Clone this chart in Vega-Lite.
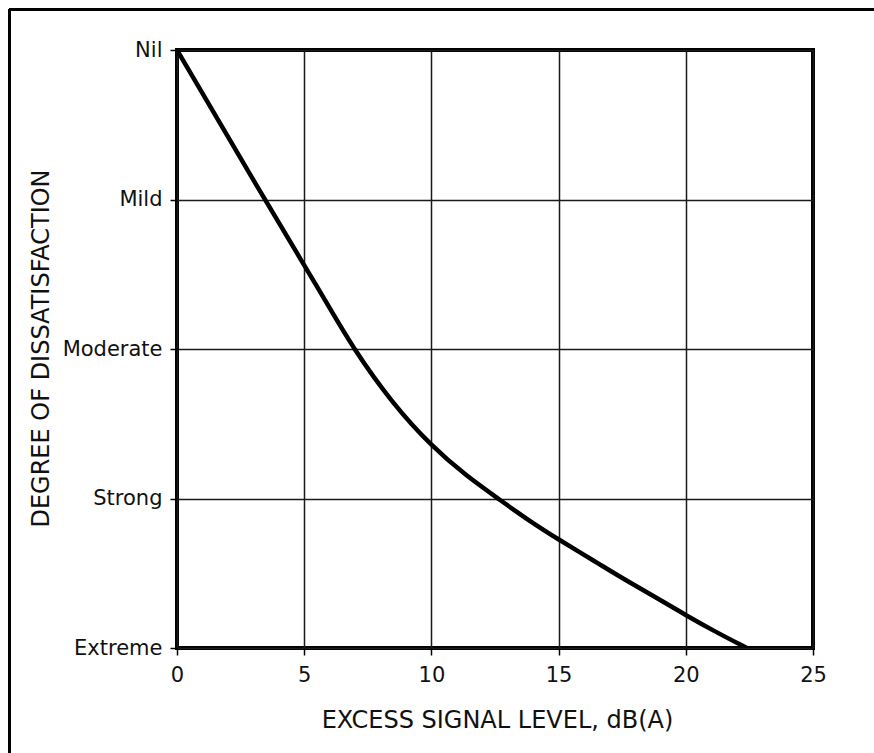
{
  "$schema": "https://vega.github.io/schema/vega-lite/v6.json",
  "autosize": "none",
  "width": 636,
  "height": 598,
  "padding": {"left": 177, "top": 50, "right": 61, "bottom": 105},
  "background": "white",
  "config": {
    "view": {"stroke": "black", "strokeWidth": 4},
    "font": "DejaVu Sans"
  },
  "data": {
    "values": [
      {"level": 0, "degree": 4},
      {"level": 3.45, "degree": 3},
      {"level": 4.97, "degree": 2.57},
      {"level": 5.81, "degree": 2.33},
      {"level": 6.94, "degree": 2},
      {"level": 8.45, "degree": 1.64},
      {"level": 10, "degree": 1.35},
      {"level": 11.38, "degree": 1.15},
      {"level": 12.7, "degree": 0.99},
      {"level": 13.81, "degree": 0.855},
      {"level": 15, "degree": 0.725},
      {"level": 16.44, "degree": 0.578},
      {"level": 17.72, "degree": 0.445},
      {"level": 19.01, "degree": 0.32},
      {"level": 20, "degree": 0.22},
      {"level": 21.07, "degree": 0.117},
      {"level": 22.4, "degree": 0}
    ]
  },
  "layer": [
    {
      "mark": {"type": "line", "interpolate": "basis", "color": "black", "strokeWidth": 4.5, "strokeCap": "round", "clip": true},
      "encoding": {
        "x": {
          "field": "level",
          "type": "quantitative",
          "scale": {"domain": [0, 25], "nice": false, "zero": false},
          "axis": {
            "values": [0, 5, 10, 15, 20, 25],
            "title": "EXCESS SIGNAL LEVEL, dB(A)",
            "titleFont": "DejaVu Sans",
            "titleFontSize": 24,
            "titleFontWeight": "normal",
            "titleColor": "#111",
            "titleBaseline": "alphabetic",
            "titleY": 79,
            "titleX": 320,
            "labelFont": "DejaVu Sans",
            "labelFontSize": 21,
            "labelColor": "#111",
            "labelPadding": 9,
            "labelFlush": false,
            "tickSize": 7,
            "tickWidth": 1.5,
            "tickColor": "black",
            "domain": false,
            "grid": true,
            "gridColor": "#1a1a1a",
            "gridWidth": 1.5,
            "gridOpacity": 1
          }
        },
        "y": {
          "field": "degree",
          "type": "quantitative",
          "scale": {"domain": [0, 4], "nice": false, "zero": false},
          "axis": {
            "values": [0, 1, 2, 3, 4],
            "labelExpr": "['Extreme','Strong','Moderate','Mild','Nil'][datum.value]",
            "title": "DEGREE OF DISSATISFACTION",
            "titleFont": "DejaVu Sans",
            "titleFontSize": 24,
            "titleFontWeight": "normal",
            "titleColor": "#111",
            "titleAngle": -90,
            "titleBaseline": "alphabetic",
            "titleX": -129,
            "titleY": 298,
            "labelFont": "DejaVu Sans",
            "labelFontSize": 21,
            "labelColor": "#111",
            "labelPadding": 8,
            "labelFlush": false,
            "tickSize": 7,
            "tickWidth": 1.5,
            "tickColor": "black",
            "domain": false,
            "grid": true,
            "gridColor": "#1a1a1a",
            "gridWidth": 1.5,
            "gridOpacity": 1
          }
        }
      }
    },
    {
      "mark": {"type": "rule", "color": "black", "strokeWidth": 2.2},
      "encoding": {
        "x": {"datum": -6.58, "type": "quantitative"},
        "x2": {"datum": 28},
        "y": {"datum": 4.271, "type": "quantitative"}
      }
    },
    {
      "mark": {"type": "rule", "color": "black", "strokeWidth": 2.2},
      "encoding": {
        "x": {"datum": -6.58, "type": "quantitative"},
        "y": {"datum": 4.271, "type": "quantitative"},
        "y2": {"datum": -1}
      }
    }
  ]
}
